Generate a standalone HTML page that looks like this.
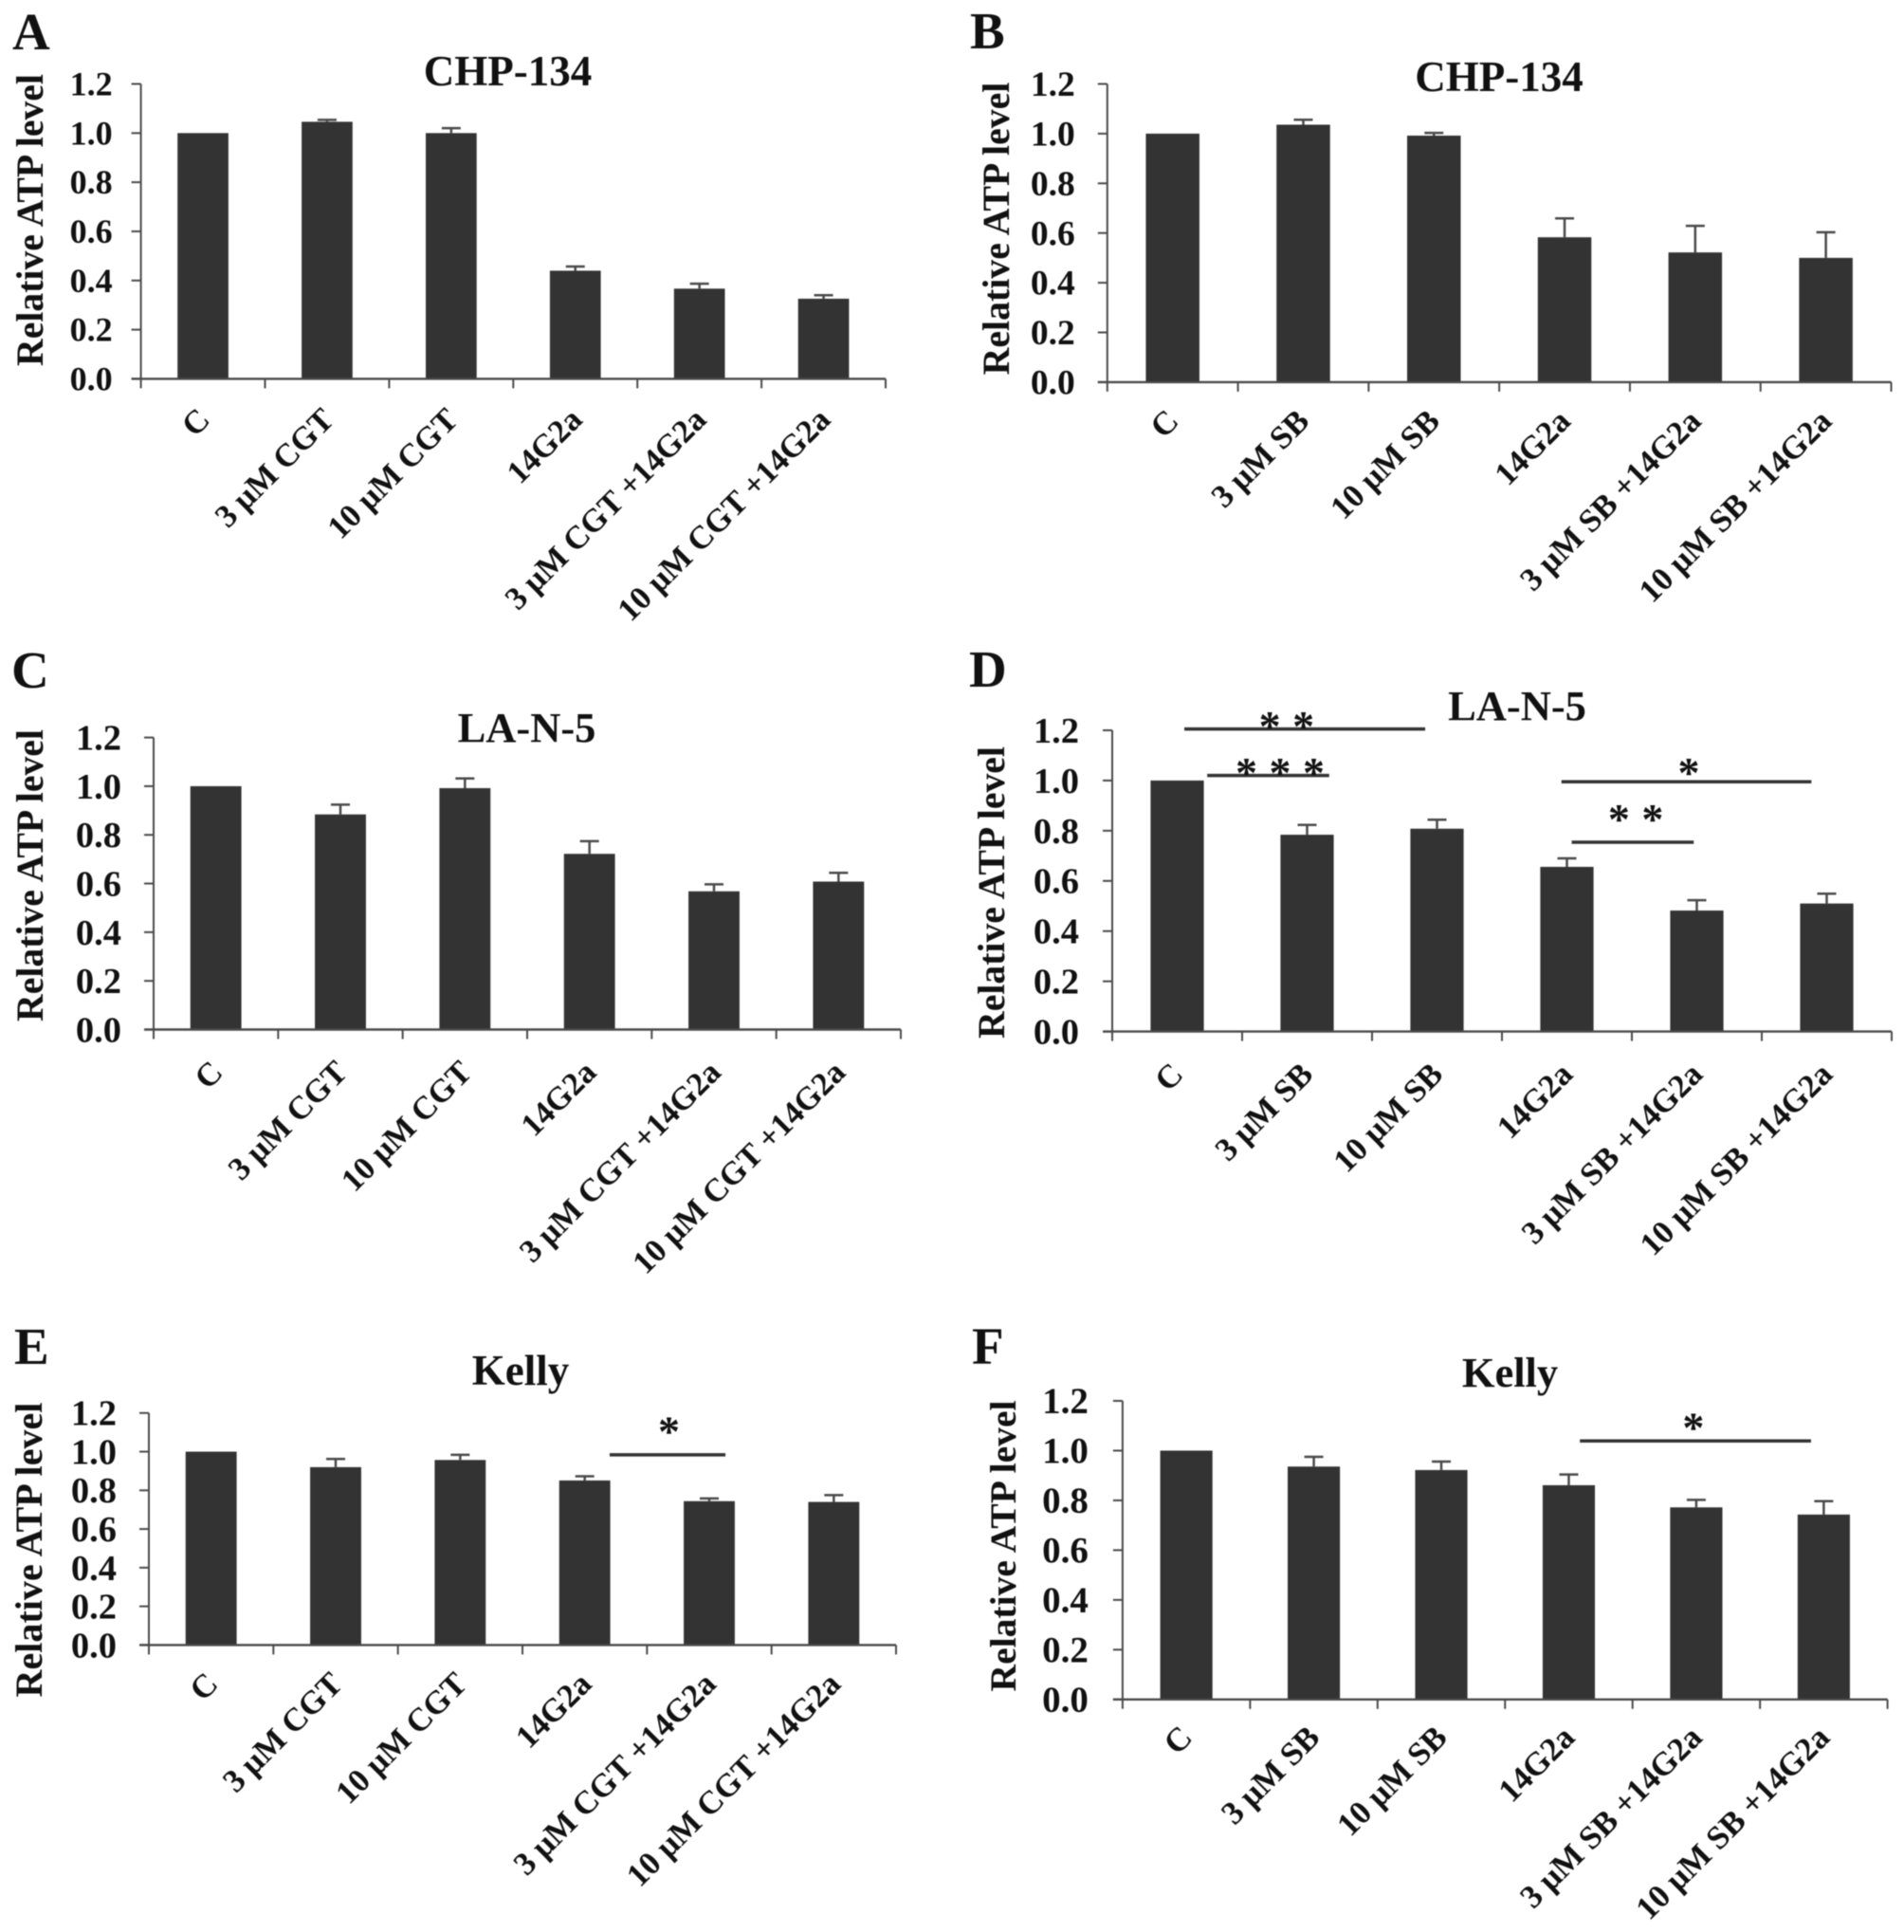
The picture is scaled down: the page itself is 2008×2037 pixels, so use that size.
<!DOCTYPE html>
<html lang="en">
<head>
<meta charset="utf-8">
<title>Relative ATP level panels</title>
<style>
html,body{margin:0;padding:0;background:#fff;}
svg{display:block;filter:blur(0.6px);}
text{font-family:"Liberation Serif",serif;font-weight:bold;fill:#111;}
</style>
</head>
<body>
<svg id="figure" xmlns="http://www.w3.org/2000/svg" width="2008" height="2037" viewBox="0 0 2008 2037">
  <rect x="0" y="0" width="2008" height="2037" fill="#fff"/>
  <g id="panel-a">
    <text x="13" y="52" font-size="55">A</text>
    <text x="535.5" y="90" font-size="45" text-anchor="middle">CHP-134</text>
    <text transform="translate(45,232) rotate(-90)" font-size="39.7" text-anchor="middle">Relative ATP level</text>
  </g>
  <g id="panel-b">
    <text x="1023" y="51" font-size="55">B</text>
    <text x="1581" y="96" font-size="45" text-anchor="middle">CHP-134</text>
    <text transform="translate(1064,241) rotate(-90)" font-size="39.8" text-anchor="middle">Relative ATP level</text>
  </g>
  <g id="panel-c">
    <text x="12" y="725" font-size="55">C</text>
    <text x="555.5" y="782" font-size="44.5" text-anchor="middle">LA-N-5</text>
    <text transform="translate(45,923) rotate(-90)" font-size="39.7" text-anchor="middle">Relative ATP level</text>
  </g>
  <g id="panel-d">
    <text x="1022" y="724" font-size="55">D</text>
    <text x="1596" y="759" font-size="44.5" text-anchor="middle" dx="4">LA-N-5</text>
    <text transform="translate(1059,941) rotate(-90)" font-size="39.7" text-anchor="middle">Relative ATP level</text>
  </g>
  <g id="panel-e">
    <text x="15" y="1438" font-size="55">E</text>
    <text x="549" y="1460" font-size="45" text-anchor="middle">Kelly</text>
    <text transform="translate(44,1634) rotate(-90)" font-size="40.1" text-anchor="middle">Relative ATP level</text>
  </g>
  <g id="panel-f">
    <text x="1025" y="1438" font-size="55">F</text>
    <text x="1592.5" y="1462" font-size="44.5" text-anchor="middle">Kelly</text>
    <text transform="translate(1071,1630) rotate(-90)" font-size="39.6" text-anchor="middle">Relative ATP level</text>
  </g>
</svg>
<script>
// Data
const categoriesCGT = ["C", "3 μM CGT", "10 μM CGT", "14G2a", "3 μM CGT +14G2a", "10 μM CGT +14G2a"];
const categoriesSB = ["C", "3 μM SB", "10 μM SB", "14G2a", "3 μM SB +14G2a", "10 μM SB +14G2a"];
const yTickValues = [0, 0.2, 0.4, 0.6, 0.8, 1.0, 1.2];
const yTickLabels = ["0.0", "0.2", "0.4", "0.6", "0.8", "1.0", "1.2"];

const valuesA = [1.0, 1.046, 1.0, 0.44, 0.367, 0.326];
const errorsA = [0, 0.008, 0.02, 0.017, 0.02, 0.014];
const valuesB = [1.0, 1.036, 0.992, 0.583, 0.522, 0.5];
const errorsB = [0, 0.02, 0.011, 0.076, 0.107, 0.103];
const valuesC = [1.0, 0.884, 0.992, 0.722, 0.568, 0.608];
const errorsC = [0, 0.04, 0.04, 0.052, 0.029, 0.036];
const valuesD = [1.0, 0.784, 0.808, 0.656, 0.482, 0.51];
const errorsD = [0, 0.039, 0.036, 0.034, 0.041, 0.039];
const valuesE = [1.0, 0.92, 0.957, 0.851, 0.744, 0.74];
const errorsE = [0, 0.042, 0.027, 0.022, 0.014, 0.035];
const valuesF = [1.0, 0.936, 0.922, 0.861, 0.772, 0.743];
const errorsF = [0, 0.039, 0.034, 0.043, 0.03, 0.054];

// Significance brackets, in axis units (category position, value level)
const sigD = [
  {from: 0.555, to: 2.409, level: 1.205, star: 1.342, starLevel: 1.241, count: 2},
  {from: 0.731, to: 1.670, level: 1.02, star: 1.292, starLevel: 1.057, count: 3},
  {from: 3.458, to: 5.382, level: 0.995, star: 4.438, starLevel: 1.057, count: 1},
  {from: 3.537, to: 4.476, level: 0.754, star: 4.03, starLevel: 0.872, count: 2}
];
const sigE = [{from: 3.70, to: 4.63, level: 0.984, star: 4.176, starLevel: 1.138, count: 1}];
const sigF = [{from: 3.587, to: 5.40, level: 1.039, star: 4.477, starLevel: 1.119, count: 1}];

const SVGNS = "http://www.w3.org/2000/svg";
const barColor = "#333333";
const axisColor = "#4a4a4a";

function make(tag, parent, attrs) {
  const el = document.createElementNS(SVGNS, tag);
  for (const k in attrs) el.setAttribute(k, attrs[k]);
  parent.appendChild(el);
  return el;
}

function drawPanel(p) {
  const root = document.getElementById(p.id);
  const n = p.categories.length;
  const step = (p.xEnd - p.x0) / n;
  const unit = (p.y0 - p.yTop) / 1.2;
  const xAt = function (c) { return p.x0 + c * step; };
  const yAt = function (v) { return p.y0 - v * unit; };
  const barW = step * 0.41;

  // bars and error bars
  p.values.forEach(function (v, i) {
    const cx = xAt(i + 0.5);
    const bar = make("rect", root, {x: cx - barW / 2, y: yAt(v), width: barW, height: p.y0 - yAt(v), fill: barColor});
    
    
    const err = p.errors[i];
    if (err > 0) {
      const top = yAt(v + err);
      const stem = make("line", root, {x1: cx, x2: cx, y1: yAt(v), y2: top, stroke: axisColor, "stroke-width": 2.5});
      
      
      const cap = make("line", root, {x1: cx - 10, x2: cx + 10, y1: top, y2: top, stroke: axisColor, "stroke-width": 2.5});
      
      
    }
  });

  // axes
  const yAxis = make("line", root, {x1: p.x0, x2: p.x0, y1: p.yTop, y2: p.y0 + 10, stroke: axisColor, "stroke-width": 2});
  
  
  const xAxis = make("line", root, {x1: p.x0 - 10, x2: p.xEnd, y1: p.y0, y2: p.y0, stroke: axisColor, "stroke-width": 2.4});
  
  

  // y ticks
  yTickValues.forEach(function (v, i) {
    const y = yAt(v);
    const tick = make("line", root, {x1: p.x0 - 10, x2: p.x0, y1: y, y2: y, stroke: axisColor, "stroke-width": 2});
    
    
    const label = make("text", root, {x: p.x0 - p.tickGap, y: y + p.tickFont * 0.335, "font-size": p.tickFont, "text-anchor": "end"});
    label.textContent = yTickLabels[i];
    
    
  });

  // x ticks
  for (let i = 1; i <= n; i++) {
    const tick = make("line", root, {x1: xAt(i), x2: xAt(i), y1: p.y0, y2: p.y0 + 10, stroke: axisColor, "stroke-width": 2});
    
    
  }

  // x labels
  p.categories.forEach(function (c, i) {
    const lx = xAt(i + 0.5) + p.labelDx;
    const ly = p.y0 + p.labelDy;
    const label = make("text", root, {transform: "translate(" + lx + "," + ly + ") rotate(-45)", "font-size": p.labelFont, "text-anchor": "end"});
    label.textContent = c;
    
    
  });

  // significance annotations
  p.sig.forEach(function (s) {
    const y = yAt(s.level);
    const line = make("line", root, {x1: xAt(s.from), x2: xAt(s.to), y1: y, y2: y, stroke: "#333", "stroke-width": 3.5});
    
    
    for (let k = 0; k < s.count; k++) {
      const sx = xAt(s.star) + (k - (s.count - 1) / 2) * 35.5;
      const sy = yAt(s.starLevel) + 46 * 0.48;
      const star = make("text", root, {x: sx, y: sy, "font-size": 46, "text-anchor": "middle"});
      star.textContent = "*";
      
      
    }
  });
}

drawPanel({id: "panel-a", categories: categoriesCGT, values: valuesA, errors: errorsA, sig: [], x0: 148.6, xEnd: 934, yTop: 88.5, y0: 399.4, tickGap: 30, tickFont: 36, labelDx: 9, labelDy: 45, labelFont: 34.3});
drawPanel({id: "panel-b", categories: categoriesSB, values: valuesB, errors: errorsB, sig: [], x0: 1167.8, xEnd: 1994.5, yTop: 88.5, y0: 402.9, tickGap: 34, tickFont: 37.5, labelDx: 8, labelDy: 43, labelFont: 34.5});
drawPanel({id: "panel-c", categories: categoriesCGT, values: valuesC, errors: errorsC, sig: [], x0: 162, xEnd: 950, yTop: 777.6, y0: 1085.5, tickGap: 34, tickFont: 38.5, labelDx: 9, labelDy: 47, labelFont: 34.3});
drawPanel({id: "panel-d", categories: categoriesSB, values: valuesD, errors: errorsD, sig: sigD, x0: 1173, xEnd: 1995, yTop: 770, y0: 1087.6, tickGap: 35, tickFont: 38.5, labelDx: 8, labelDy: 47, labelFont: 34.5});
drawPanel({id: "panel-e", categories: categoriesCGT, values: valuesE, errors: errorsE, sig: sigE, x0: 157, xEnd: 945, yTop: 1489.8, y0: 1734.4, tickGap: 34, tickFont: 38.5, labelDx: 9, labelDy: 43, labelFont: 34.5});
drawPanel({id: "panel-f", categories: categoriesSB, values: valuesF, errors: errorsF, sig: sigF, x0: 1183.9, xEnd: 1990.6, yTop: 1477, y0: 1791.8, tickGap: 36, tickFont: 39, labelDx: 8, labelDy: 42, labelFont: 34.7});
</script>
</body>
</html>
